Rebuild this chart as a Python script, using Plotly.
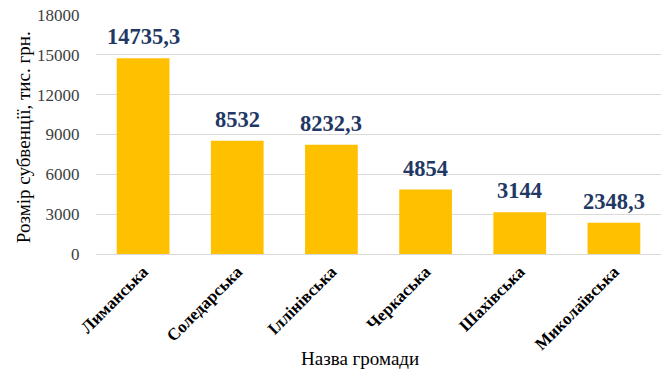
import plotly.graph_objects as go

categories = ["Лиманська", "Соледарська", "Іллінівська", "Черкаська", "Шахівська", "Миколаївська"]
values = [14735.3, 8532, 8232.3, 4854, 3144, 2348.3]
labels = [(str(v).replace(".", ",") if v != int(v) else str(int(v))) for v in values]
tick_vals = [0, 3000, 6000, 9000, 12000, 15000, 18000]

SERIF = "Liberation Serif, Times New Roman, serif"

fig = go.Figure(go.Bar(
    x=categories, y=values,
    marker=dict(color="#FFC000", line=dict(width=0)),
    hoverinfo="skip",
))

for c, v, t in zip(categories, values, labels):
    fig.add_annotation(
        x=c, y=v, text="<b>%s</b>" % t, showarrow=False,
        yanchor="bottom", yshift=7,
        font=dict(family=SERIF, size=22.5, color="#1F3864"),
    )

# axis titles
fig.add_annotation(
    text="Назва громади", xref="paper", yref="paper", x=0.467, y=-0.439,
    xanchor="center", yanchor="middle", showarrow=False,
    font=dict(family=SERIF, size=19, color="#000"),
)
fig.add_annotation(
    text="Розмір субвенції, тис. грн.", xref="paper", yref="paper", x=-0.127, y=0.49,
    xanchor="center", yanchor="middle", textangle=-90, showarrow=False,
    font=dict(family=SERIF, size=19, color="#000"),
)

fig.update_layout(
    width=672, height=377,
    margin=dict(l=96, r=11, t=15, b=123),
    paper_bgcolor="white", plot_bgcolor="white",
    bargap=0.44,
    showlegend=False,
    font=dict(family=SERIF, color="#000000"),
    xaxis=dict(
        automargin=False,
        tickangle=-45, tickfont=dict(family=SERIF, size=17, weight="bold", color="#000"),
        showline=True, linecolor="#D9D9D9", linewidth=1,
    ),
    yaxis=dict(
        automargin=False,
        range=[0, 18000], tickvals=tick_vals, tickformat="d",
        showgrid=True, gridcolor="#D9D9D9", gridwidth=1, zeroline=False,
        tickfont=dict(family=SERIF, size=17, color="#404040"),
        ticks="outside", ticklen=12, tickcolor="rgba(0,0,0,0)",
    ),
)

fig.write_html("out.html", config={"displayModeBar": False},
               post_script="document.body.style.margin='0';")
